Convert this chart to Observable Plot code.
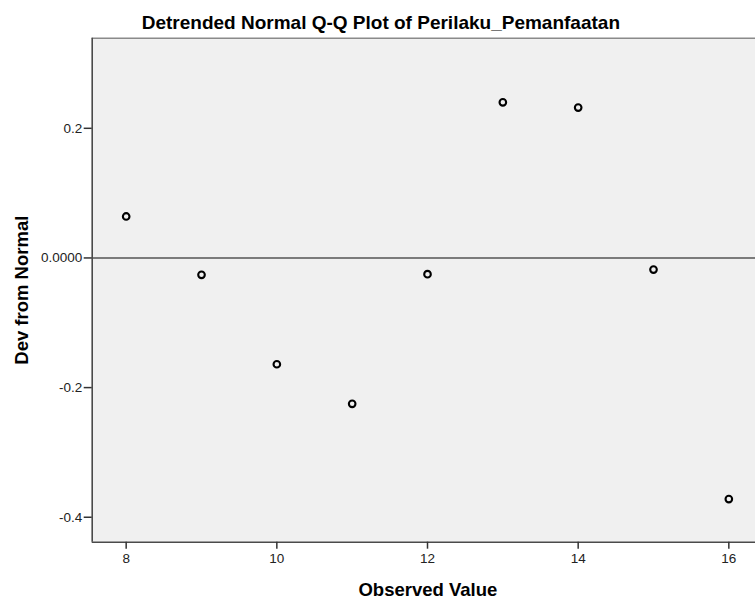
<!DOCTYPE html>
<html><head><meta charset="utf-8">
<script src="https://cdn.jsdelivr.net/npm/d3@7"></script>
<script src="https://cdn.jsdelivr.net/npm/@observablehq/plot@0.6"></script>
<style>body{margin:0;background:#fff} svg{display:block}</style>
</head><body><div id="chart"></div>
<script>
const title = "Detrended Normal Q-Q Plot of Perilaku_Pemanfaatan";
const xLabel = "Observed Value";
const yLabel = "Dev from Normal";
const observed = [8, 9, 10, 11, 12, 13, 14, 15, 16];
const deviation = [0.064, -0.026, -0.164, -0.225, -0.025, 0.240, 0.232, -0.018, -0.372];
const xTicks = [8, 10, 12, 14, 16];
const yTicks = [-0.4, -0.2, 0, 0.2];
const yTickLabels = ["-0.4", "-0.2", "0.0000", "0.2"];

const data = observed.map((x, i) => ({x, y: deviation[i]}));
const xDomain = [7.549, 16.354];
const yDomain = [-0.4385, 0.339];

const chart = Plot.plot({
  width: 755, height: 603,
  marginLeft: 91.7, marginRight: 0, marginTop: 37.7, marginBottom: 61.3,
  style: {fontFamily: "Arial, 'Liberation Sans', sans-serif", background: "#fff", color: "#222"},
  x: {domain: xDomain, label: null},
  y: {domain: yDomain, label: null},
  marks: [
    Plot.frame({fill: "#f0f0f0", stroke: null}),
    Plot.ruleY([yDomain[1]], {stroke: "#8a8a8a", strokeWidth: 1.5}),
    Plot.ruleY([0], {stroke: "#555", strokeWidth: 1.6}),
    Plot.ruleX([xDomain[0]], {stroke: "#4a4a4a", strokeWidth: 1.6}),
    Plot.ruleY([yDomain[0]], {stroke: "#4a4a4a", strokeWidth: 1.6}),
    Plot.axisX({ticks: xTicks, tickSize: 7, tickPadding: 4, fontSize: 13.5, stroke: "#333", strokeWidth: 1.5, label: null}),
    Plot.axisY({ticks: yTicks, tickSize: 8, tickPadding: 2, fontSize: 13.5, stroke: "#333", strokeWidth: 1.5,
      tickFormat: d => yTickLabels[yTicks.indexOf(d)], label: null}),
    Plot.dot(data, {x: "x", y: "y", r: 3.3, stroke: "#000", strokeWidth: 2.1, fill: "none"}),
    Plot.text([title], {frameAnchor: "top", dx: -43, dy: -9.7, lineAnchor: "bottom", fontSize: 19, fontWeight: "bold", fill: "#000"}),
    Plot.text([xLabel], {frameAnchor: "bottom", dx: 4, dy: 53.3, lineAnchor: "bottom", fontSize: 18.5, fontWeight: "bold", fill: "#000"}),
    Plot.text([yLabel], {frameAnchor: "left", dx: -64.4, rotate: -90, textAnchor: "middle", lineAnchor: "bottom", fontSize: 18.5, fontWeight: "bold", fill: "#000"})
  ]
});
document.getElementById("chart").appendChild(chart);
</script>
</body></html>
